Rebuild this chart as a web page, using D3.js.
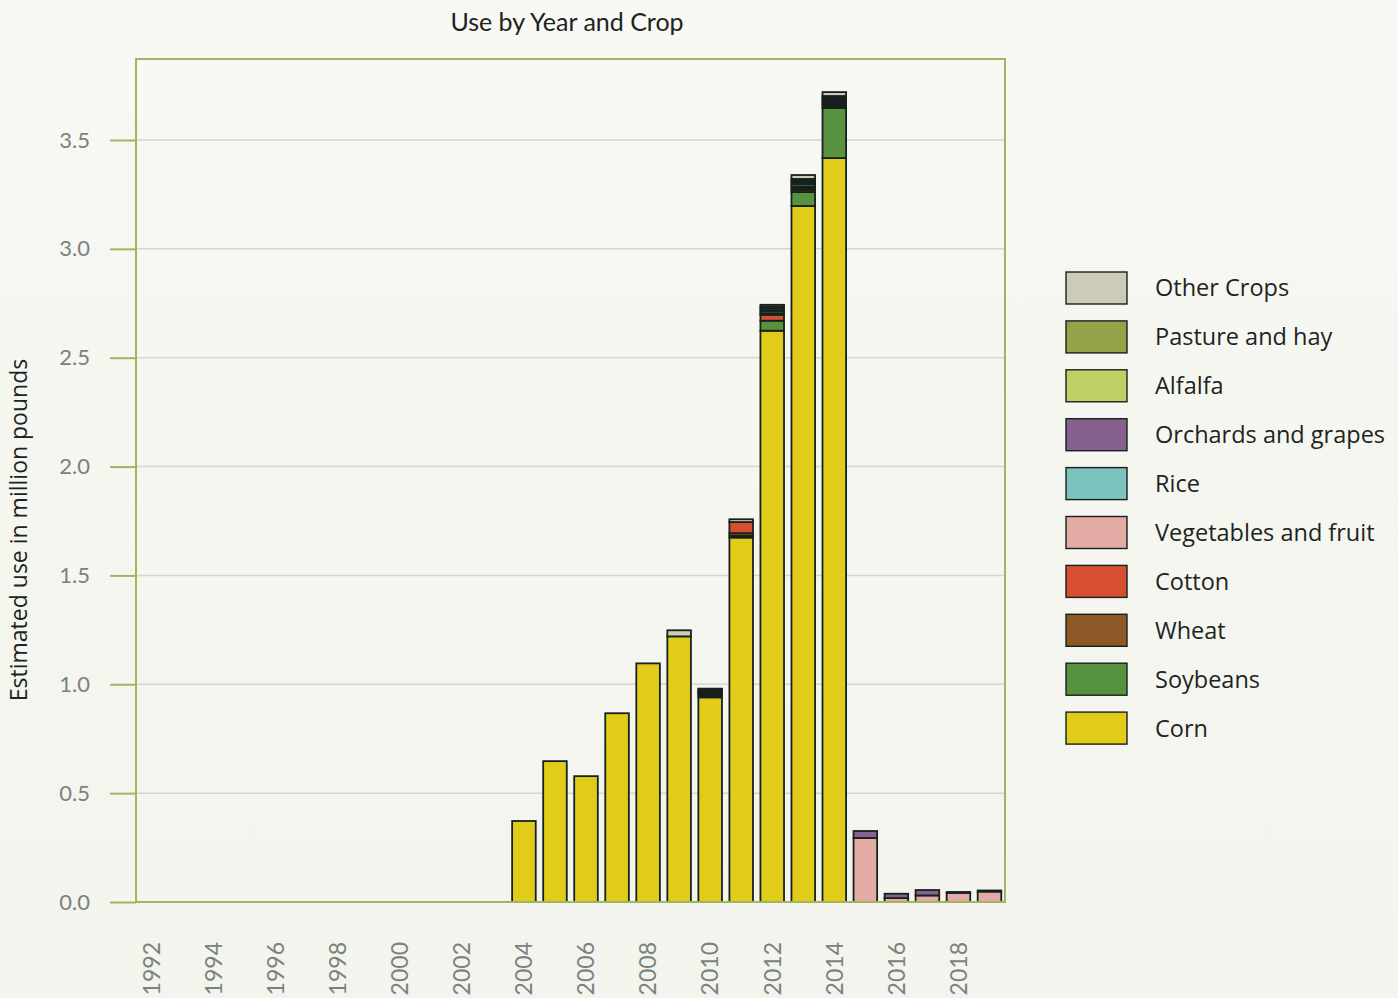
<!DOCTYPE html>
<html>
<head>
<meta charset="utf-8">
<script src="https://cdn.jsdelivr.net/npm/d3@7"></script>
<style>
  body { margin: 0; background: #f4f5ef; }
  svg { display: block; font-family: Lato, "Open Sans", sans-serif; }
</style>
</head>
<body>
<svg id="chart" width="1398" height="998"></svg>
<script>
var years = d3.range(1992, 2020)
var crops = ["Corn", "Soybeans", "Wheat", "Cotton", "Vegetables and fruit", "Rice",
    "Orchards and grapes", "Alfalfa", "Pasture and hay", "Other Crops"]
var colors = ["#e2cc1a", "#56923f", "#8b5826", "#d64f33", "#e2aca5", "#7cc3bd",
    "#86608e", "#c0d068", "#94a347", "#cccbb9"]

// values per crop, 1992..2019 (1992-2003 are all zero)
var z12 = [0,0,0,0,0,0,0,0,0,0,0,0]
//                        2004   2005   2006   2007   2008   2009   2010   2011   2012   2013   2014   2015   2016   2017   2018   2019
var corn     = z12.concat([0.372, 0.647, 0.578, 0.867, 1.096, 1.220, 0.940, 1.674, 2.624, 3.197, 3.417, 0,     0,     0,     0,     0])
var soybeans = z12.concat([0,     0,     0,     0,     0,     0,     0,     0.008, 0.046, 0.064, 0.230, 0,     0,     0,     0,     0])
var wheat    = z12.concat([0,     0,     0,     0,     0,     0,     0.008, 0.012, 0,     0.010, 0.008, 0,     0,     0,     0,     0])
var cotton   = z12.concat([0,     0,     0,     0,     0,     0,     0.006, 0.051, 0.027, 0.008, 0.008, 0,     0,     0,     0,     0])
var veg      = z12.concat([0,     0,     0,     0,     0,     0,     0.006, 0,     0.008, 0.008, 0.008, 0.294, 0.018, 0.030, 0.042, 0.048])
var rice     = z12.concat([0,     0,     0,     0,     0,     0,     0.006, 0,     0.010, 0.010, 0.008, 0,     0,     0,     0,     0])
var orchards = z12.concat([0,     0,     0,     0,     0,     0,     0.006, 0,     0.010, 0.008, 0.008, 0.032, 0.020, 0.025, 0.004, 0.005])
var alfalfa  = z12.concat([0,     0,     0,     0,     0,     0,     0.004, 0,     0.009, 0.008, 0.008, 0,     0,     0,     0,     0])
var pasture  = z12.concat([0,     0,     0,     0,     0,     0,     0.004, 0,     0.009, 0.008, 0.007, 0,     0,     0,     0,     0])
var other    = z12.concat([0,     0,     0,     0,     0,     0.028, 0,     0.013, 0,     0.018, 0.018, 0,     0,     0,     0,     0])
var series = [corn, soybeans, wheat, cotton, veg, rice, orchards, alfalfa, pasture, other]

var yTicks = [0, 0.5, 1.0, 1.5, 2.0, 2.5, 3.0, 3.5]
var xTickYears = years.filter(d => d % 2 == 0)

var rows = years.map(function(yr, i) {
    var r = {year: yr}
    crops.forEach(function(c, j) { r[c] = series[j][i] })
    return r
})

var svg = d3.select("#chart")
var plotLeft = 136, plotRight = 1005, plotTop = 59, plotBottom = 902

var bg = svg.append("defs").append("linearGradient")
    .attr("id", "bg").attr("x1", 0).attr("y1", 0).attr("x2", 0).attr("y2", 1)
bg.append("stop").attr("offset", "0").attr("stop-color", "#f8f8f4")
bg.append("stop").attr("offset", "1").attr("stop-color", "#f3f4ed")
svg.append("rect").attr("width", 1398).attr("height", 998).attr("fill", "url(#bg)")

var x = d3.scaleBand()
    .domain(years)
    .range([plotLeft, plotRight])
    .paddingInner(0.24)
    .paddingOuter(0.12)

var y = d3.scaleLinear()
    .domain([0, 3.872])
    .range([plotBottom, plotTop])

// gridlines
svg.append("g").selectAll("line")
    .data(yTicks.filter(d => d > 0))
    .enter().append("line")
    .attr("x1", plotLeft).attr("x2", plotRight)
    .attr("y1", d => y(d)).attr("y2", d => y(d))
    .attr("stroke", "#d6d6d1")
    .attr("stroke-width", 1.5)

// bars
var stack = d3.stack().keys(crops)
var layers = stack(rows)

svg.append("g").selectAll("g")
    .data(layers)
    .enter().append("g")
    .attr("fill", (d, i) => colors[i])
    .selectAll("rect")
    .data(d => d.filter(p => p[1] - p[0] > 0))
    .enter().append("rect")
    .attr("x", d => x(d.data.year))
    .attr("width", x.bandwidth())
    .attr("y", d => y(d[1]))
    .attr("height", d => y(d[0]) - y(d[1]))
    .attr("stroke", "#17201d")
    .attr("stroke-width", 1.8)

// frame
svg.append("rect")
    .attr("x", plotLeft).attr("y", plotTop)
    .attr("width", plotRight - plotLeft).attr("height", plotBottom - plotTop)
    .attr("fill", "none")
    .attr("stroke", "#a5b35e")
    .attr("stroke-width", 2)

// y axis
var yAxis = d3.axisLeft(y)
    .tickValues(yTicks)
    .tickFormat(d3.format(".1f"))
    .tickSize(26)
    .tickPadding(20)
var ya = svg.append("g")
    .attr("transform", "translate(" + plotLeft + ",0)")
    .call(yAxis)
ya.select(".domain").remove()
ya.selectAll(".tick line").attr("stroke", "#a5b35e").attr("stroke-width", 2)
ya.selectAll(".tick text")
    .attr("fill", "#7b817c")
    .attr("font-size", 22)
    .attr("font-family", "Lato, sans-serif")

// x axis labels
svg.append("g").selectAll("text")
    .data(xTickYears)
    .enter().append("text")
    .attr("transform", d => "translate(" + (x(d) + x.bandwidth() / 2) + ",942) rotate(-90)")
    .attr("text-anchor", "end")
    .attr("dy", "0.36em")
    .attr("fill", "#7b817c")
    .attr("font-size", 23)
    .text(d => d)

// title
svg.append("text")
    .attr("x", 567).attr("y", 31)
    .attr("text-anchor", "middle")
    .attr("fill", "#1c2422")
    .attr("font-size", 25)
    .text("Use by Year and Crop")

// y label
svg.append("text")
    .attr("transform", "translate(27,530) rotate(-90)")
    .attr("text-anchor", "middle")
    .attr("fill", "#1c2422")
    .attr("font-size", 23)
    .attr("font-family", "'Open Sans', sans-serif")
    .text("Estimated use in million pounds")

// legend
var legendItems = crops.map((c, i) => ({name: c, color: colors[i]})).reverse()
var legend = svg.append("g").selectAll("g")
    .data(legendItems)
    .enter().append("g")
    .attr("transform", (d, i) => "translate(1066," + (272 + i * 48.9) + ")")
legend.append("rect")
    .attr("width", 61).attr("height", 32)
    .attr("fill", d => d.color)
    .attr("stroke", "#17201d")
    .attr("stroke-width", 1.4)
legend.append("text")
    .attr("x", 89).attr("y", 16)
    .attr("dy", "0.36em")
    .attr("fill", "#1c2422")
    .attr("font-size", 23.5)
    .attr("font-family", "'Open Sans', sans-serif")
    .text(d => d.name)
</script>
</body>
</html>
